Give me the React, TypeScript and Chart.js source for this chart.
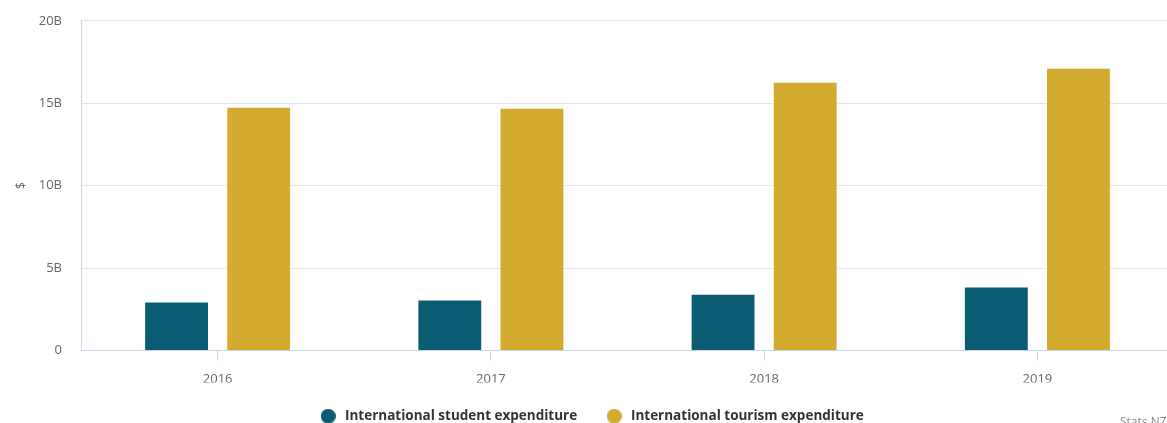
import React, { useEffect, useRef } from "react";
import { Chart, registerables } from "chart.js";

Chart.register(...registerables);

const categories = ["2016", "2017", "2018", "2019"];
const studentValues = [2.97, 3.09, 3.45, 3.88];
const tourismValues = [14.79, 14.73, 16.3, 17.15];
const yTicks = [0, 5, 10, 15, 20];
const seriesNames = ["International student expenditure", "International tourism expenditure"];
const seriesColors = ["#0a5c73", "#d2ab2f"];

const FONT = "'Open Sans', Lato, sans-serif";

function makeDot(color: string, size: number) {
  const c = document.createElement("canvas");
  c.width = size;
  c.height = size;
  const g = c.getContext("2d");
  if (g) {
    g.fillStyle = color;
    g.beginPath();
    g.arc(size / 2, size / 2, size / 2, 0, Math.PI * 2);
    g.fill();
  }
  return c;
}

export default function App() {
  const ref = useRef<HTMLCanvasElement | null>(null);

  useEffect(() => {
    const ctx = ref.current;
    if (!ctx) return;
    const dots = seriesColors.map((c) => makeDot(c, 15));
    const chart = new Chart(ctx, {
      type: "bar",
      data: {
        labels: categories,
        datasets: [
          {
            label: seriesNames[0],
            data: studentValues,
            backgroundColor: seriesColors[0],
            borderColor: "rgba(255,255,255,0.45)",
            borderWidth: 1,
            categoryPercentage: 0.601,
            barPercentage: 0.79,
          },
          {
            label: seriesNames[1],
            data: tourismValues,
            backgroundColor: seriesColors[1],
            borderColor: "rgba(255,255,255,0.45)",
            borderWidth: 1,
            categoryPercentage: 0.601,
            barPercentage: 0.79,
          },
        ],
      },
      options: {
        animation: false,
        responsive: false,
        maintainAspectRatio: false,
        layout: { padding: { top: 0, right: 0, left: 0, bottom: 0 } },
        plugins: {
          tooltip: { enabled: false },
          legend: {
            position: "bottom",
            labels: {
              usePointStyle: true,
              pointStyleWidth: 20,
              boxHeight: 12,
              padding: 27,
              color: "#333333",
              font: { family: FONT, size: 13.5, weight: "bold" },
              generateLabels: (c: any) =>
                Chart.defaults.plugins.legend.labels
                  .generateLabels(c)
                  .map((l: any, i: number) => ({ ...l, pointStyle: dots[i] })),
            },
          },
        },
        scales: {
          x: {
            grid: {
              drawOnChartArea: false,
              drawTicks: true,
              tickLength: 10,
              color: "#ccd6eb",
              offset: false,
            },
            border: { display: true, color: "#ccd6eb" },
            ticks: {
              color: "#666666",
              padding: 11,
              font: { family: FONT, size: 13 },
            },
            afterFit: (scale: any) => {
              scale.height = 32;
            },
          },
          y: {
            min: 0,
            max: 20,
            afterBuildTicks: (scale: any) => {
              scale.ticks = yTicks.map((v) => ({ value: v }));
            },
            grid: { color: "#e6e6e6", drawTicks: false },
            border: { display: true, color: "#ccd6eb" },
            ticks: {
              color: "#666666",
              padding: 19,
              font: { family: FONT, size: 13 },
              callback: (v: any) => (Number(v) === 0 ? "0" : v + "B"),
            },
            title: {
              display: true,
              text: "$",
              color: "#666666",
              padding: { top: 6, bottom: 0 },
              font: { family: FONT, size: 12 },
            },
            afterFit: (scale: any) => {
              scale.width = 73;
            },
          },
        },
      },
    });
    return () => chart.destroy();
  }, []);

  return (
    <div
      style={{
        position: "fixed",
        left: 8,
        top: 8,
        width: 1159,
        height: 415,
        overflow: "hidden",
      }}
    >
      <canvas
        ref={ref}
        width={1166}
        height={439}
        style={{ display: "block", width: 1166, height: 439, marginTop: -14 }}
      />
      <span
        style={{
          position: "absolute",
          left: 1112,
          top: 405,
          fontFamily: FONT,
          fontSize: 12,
          color: "#888888",
          whiteSpace: "nowrap",
        }}
      >
        Stats NZ
      </span>
    </div>
  );
}
